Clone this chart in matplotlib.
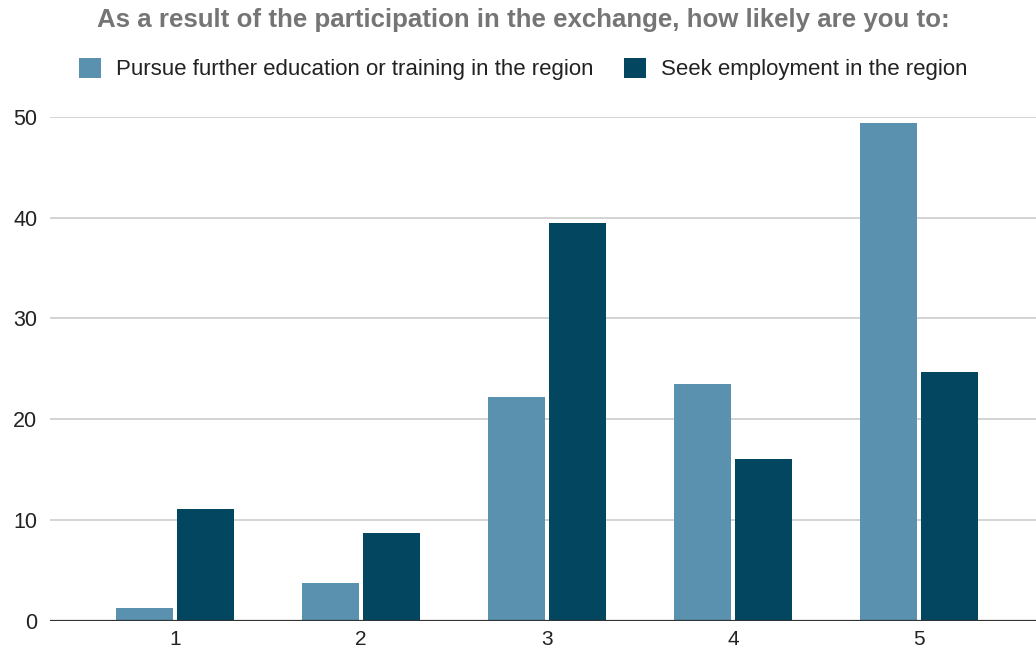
import numpy as np
import matplotlib
matplotlib.use("Agg")
import matplotlib.pyplot as plt
from matplotlib.patches import Patch

plt.rcParams['font.family'] = ['Liberation Sans', 'DejaVu Sans']

# likelihood scale answers (share of respondents, %)
categories = ["1", "2", "3", "4", "5"]
education = [1.23, 3.70, 22.22, 23.46, 49.38]
employment = [11.11, 8.64, 39.51, 16.05, 24.69]
series_names = ["Pursue further education or training in the region",
                "Seek employment in the region"]
title = "As a result of the participation in the exchange, how likely are you to:"

LIGHT = "#5a91ae"
DARK = "#02465f"

fig = plt.figure(figsize=(10.36, 6.54), dpi=100)
ax = fig.add_axes([0.048, 0.0512, 0.952, 0.770])

x = np.arange(1, len(categories) + 1)
w = 0.307
ax.bar(x - 0.164, education, width=w, color=LIGHT, zorder=3)
ax.bar(x + 0.164, employment, width=w, color=DARK, zorder=3)

ax.set_xlim(0.328, 5.629)
ax.set_ylim(0, 50)
ax.set_yticks([0, 10, 20, 30, 40, 50])
ax.set_xticks(x)
ax.set_xticklabels(categories)
ax.yaxis.grid(True, color="#cccccc", linewidth=1.2, zorder=0)
ax.set_axisbelow(True)
for s in ax.spines.values():
    s.set_visible(False)
ax.axhline(0, color="#333333", linewidth=1.6, zorder=4)
ax.tick_params(length=0, colors="#222222")
ax.tick_params(axis="y", pad=9, labelsize=15.5)
ax.tick_params(axis="x", pad=6.5, labelsize=15)

fig.text(0.505, 0.9587, title, ha="center", va="baseline", fontsize=18.6,
         fontweight="bold", color="#757575")

handles = [Patch(facecolor=LIGHT), Patch(facecolor=DARK)]
fig.legend(handles, series_names, loc="center", bbox_to_anchor=(0.505, 0.8945),
           ncol=2, frameon=False, fontsize=16, handlelength=1.0, handleheight=1.05,
           handletextpad=0.68, columnspacing=1.35, labelcolor="#222222",
           borderaxespad=0, borderpad=0)

fig.savefig("out.png", dpi=100)
